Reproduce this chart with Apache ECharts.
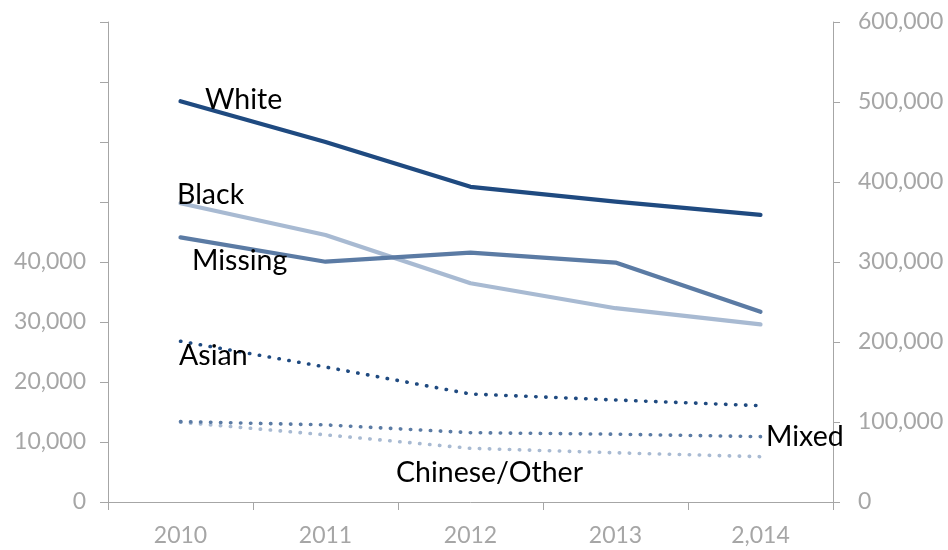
<!DOCTYPE html>
<html>
<head>
<meta charset="utf-8">
<script src="https://cdn.jsdelivr.net/npm/echarts@6/dist/echarts.min.js"></script>
<style>
  html, body { margin: 0; padding: 0; background: #fff; }
  #chart { width: 948px; height: 550px; }
</style>
</head>
<body>
<div id="chart"></div>
<script>
// Years along the bottom axis
const years = ['2010', '2011', '2012', '2013', '2,014'];

// White is read on the right-hand axis, every other group on the left
const white = [501000, 450000, 394000, 375500, 359000];
const black = [49800, 44500, 36450, 32300, 29600];
const missing = [44100, 40050, 41550, 39900, 31700];
const asian = [26800, 22500, 18000, 17000, 16050];
const mixed = [13400, 12850, 11550, 11300, 10900];
const chineseOther = [13300, 11200, 8950, 8200, 7550];

// Left-axis ticks run to 80,000 but only the lower ones carry a label
const leftLabelLimit = 40000;

const DARK = '#1f4a80';
const MID = '#5b7ba4';
const LIGHT = '#a8bad2';
const AXIS_GREY = '#a6a6a6';
const FONT = 'Lato, "Noto Sans", sans-serif';

const fmt = v => v.toLocaleString('en-US');

const chart = echarts.init(document.getElementById('chart'), null, { renderer: 'canvas' });

function solid(name, data, color, axis) {
  return {
    name, type: 'line', data, yAxisIndex: axis,
    symbol: 'none', smooth: false, silent: true,
    lineStyle: { color, width: 4.2, cap: 'round', join: 'round' }
  };
}
function dotted(name, data, color, axis) {
  return {
    name, type: 'line', data, yAxisIndex: axis,
    symbol: 'none', smooth: false, silent: true,
    lineStyle: { color, width: 3.6, type: [0.4, 9.6], cap: 'round' }
  };
}

const labelStyle = { fill: '#000', font: '28.5px ' + FONT, textVerticalAlign: 'middle' };
function tag(text, x, y) {
  return { type: 'text', left: x, top: y, z: 100, style: Object.assign({ text }, labelStyle) };
}

chart.setOption({
  animation: false,
  backgroundColor: '#fff',
  grid: { left: 108, right: 115, top: 22, bottom: 48, containLabel: false },
  xAxis: {
    type: 'category', data: years, boundaryGap: true,
    axisLine: { lineStyle: { color: AXIS_GREY, width: 1 } },
    axisTick: { show: true, length: 8, lineStyle: { color: AXIS_GREY } },
    axisLabel: { color: AXIS_GREY, fontFamily: FONT, fontSize: 23, margin: 22 },
    splitLine: { show: false }
  },
  yAxis: [
    {
      type: 'value', position: 'left', min: 0, max: 80000, interval: 10000,
      axisLine: { show: true, lineStyle: { color: AXIS_GREY, width: 1 } },
      axisTick: { show: true, length: 8, lineStyle: { color: AXIS_GREY } },
      axisLabel: {
        color: AXIS_GREY, fontFamily: FONT, fontSize: 23, margin: 22,
        formatter: v => (v <= leftLabelLimit ? fmt(v) : '')
      },
      splitLine: { show: false }
    },
    {
      type: 'value', position: 'right', min: 0, max: 600000, interval: 100000,
      axisLine: { show: true, lineStyle: { color: AXIS_GREY, width: 1 } },
      axisTick: { show: true, length: 7, lineStyle: { color: AXIS_GREY } },
      axisLabel: { color: AXIS_GREY, fontFamily: FONT, fontSize: 23, margin: 25, formatter: fmt },
      splitLine: { show: false }
    }
  ],
  series: [
    solid('White', white, DARK, 1),
    solid('Black', black, LIGHT, 0),
    solid('Missing', missing, MID, 0),
    dotted('Chinese/Other', chineseOther, LIGHT, 0),
    dotted('Mixed', mixed, MID, 0),
    dotted('Asian', asian, DARK, 0)
  ],
  graphic: [
    tag('White', 205, 85),
    tag('Black', 177, 180),
    tag('Missing', 192, 246),
    tag('Asian', 179, 341),
    tag('Chinese/Other', 396, 458),
    tag('Mixed', 766, 422)
  ]
});
</script>
</body>
</html>
